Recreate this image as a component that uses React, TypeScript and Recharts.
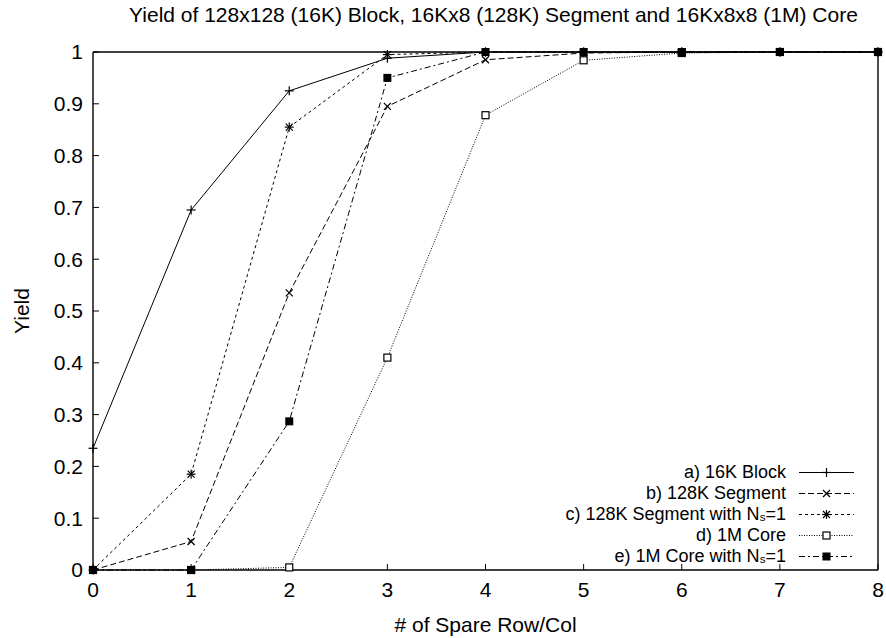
import React from 'react';
import { LineChart, Line, XAxis, YAxis, Legend } from 'recharts';

// Number of spare rows/columns on the x axis
const spares = [0, 1, 2, 3, 4, 5, 6, 7, 8];

// Yield per configuration
const block16K = [0.235, 0.695, 0.925, 0.988, 1, 1, 1, 1, 1];
const segment128K = [0, 0.055, 0.535, 0.895, 0.985, 0.998, 1, 1, 1];
const segment128KNs1 = [0, 0.185, 0.855, 0.995, 1, 1, 1, 1, 1];
const core1M = [0, 0, 0.005, 0.41, 0.878, 0.984, 0.998, 1, 1];
const core1MNs1 = [0, 0, 0.287, 0.95, 1, 1, 1, 1, 1];

const xTicks = [0, 1, 2, 3, 4, 5, 6, 7, 8];
const yTicks = [0, 0.1, 0.2, 0.3, 0.4, 0.5, 0.6, 0.7, 0.8, 0.9, 1];

const rows = spares.map((n, i) => ({
  n,
  a: block16K[i],
  b: segment128K[i],
  c: segment128KNs1[i],
  d: core1M[i],
  e: core1MNs1[i],
}));

type MarkerKind = 'plus' | 'cross' | 'star' | 'openSquare' | 'filledSquare';

const subStyle: React.CSSProperties = { fontSize: '0.65em', verticalAlign: '-0.1em', lineHeight: 0 };

const series: { key: string; label: React.ReactNode; dash?: string; marker: MarkerKind }[] = [
  { key: 'a', label: 'a) 16K Block', marker: 'plus' },
  { key: 'b', label: 'b) 128K Segment', dash: '6 3', marker: 'cross' },
  {
    key: 'c',
    label: (
      <>
        c) 128K Segment with N<sub style={subStyle}>s</sub>=1
      </>
    ),
    dash: '3 3',
    marker: 'star',
  },
  { key: 'd', label: 'd) 1M Core', dash: '1 1.5', marker: 'openSquare' },
  {
    key: 'e',
    label: (
      <>
        e) 1M Core with N<sub style={subStyle}>s</sub>=1
      </>
    ),
    dash: '6 3 2 3',
    marker: 'filledSquare',
  },
];

const FONT = '"Liberation Sans", Arial, Helvetica, sans-serif';
const FONT_SIZE = 21;
const LEGEND_FONT_SIZE = 18;
const LEGEND_ROW = 21;

// Plot frame: y axis at x=93, right border at 878, top at 52, x axis at 570
const PLOT_LEFT = 93;
const PLOT_RIGHT = 878;
const PLOT_CENTER = (PLOT_LEFT + PLOT_RIGHT) / 2;

function Marker({ kind, cx, cy }: { kind: MarkerKind; cx: number; cy: number }) {
  const r = 4.5;
  const s = 3.5;
  const stroke = { stroke: '#000', strokeWidth: 1.2 };
  switch (kind) {
    case 'plus':
      return (
        <g>
          <line x1={cx - r} y1={cy} x2={cx + r} y2={cy} {...stroke} />
          <line x1={cx} y1={cy - r} x2={cx} y2={cy + r} {...stroke} />
        </g>
      );
    case 'cross':
      return (
        <g>
          <line x1={cx - s} y1={cy - s} x2={cx + s} y2={cy + s} {...stroke} />
          <line x1={cx - s} y1={cy + s} x2={cx + s} y2={cy - s} {...stroke} />
        </g>
      );
    case 'star':
      return (
        <g>
          <line x1={cx - s} y1={cy - s} x2={cx + s} y2={cy + s} {...stroke} />
          <line x1={cx - s} y1={cy + s} x2={cx + s} y2={cy - s} {...stroke} />
          <line x1={cx - r} y1={cy} x2={cx + r} y2={cy} {...stroke} />
          <line x1={cx} y1={cy - r} x2={cx} y2={cy + r} {...stroke} />
        </g>
      );
    case 'openSquare':
      return <rect x={cx - 3.5} y={cy - 3.5} width={7} height={7} fill="#fff" {...stroke} />;
    case 'filledSquare':
      return <rect x={cx - 4} y={cy - 4} width={8} height={8} fill="#000" />;
  }
}

function makeDot(kind: MarkerKind) {
  return (props: any) => {
    const { cx, cy, index } = props;
    if (cx == null || cy == null) return <g key={index} />;
    return (
      <g key={`${kind}-${index}`}>
        <Marker kind={kind} cx={cx} cy={cy} />
      </g>
    );
  };
}

function LegendBox() {
  return (
    <div style={{ fontFamily: FONT, fontSize: LEGEND_FONT_SIZE, color: '#000' }}>
      {series.map((s) => (
        <div
          key={s.key}
          style={{ display: 'flex', alignItems: 'center', justifyContent: 'flex-end', height: LEGEND_ROW }}
        >
          <span style={{ whiteSpace: 'nowrap', lineHeight: `${LEGEND_ROW}px` }}>{s.label}</span>
          <svg width={60} height={LEGEND_ROW} style={{ marginLeft: 11 }}>
            <line
              x1={2}
              y1={LEGEND_ROW / 2}
              x2={57}
              y2={LEGEND_ROW / 2}
              stroke="#000"
              strokeWidth={1}
              strokeDasharray={s.dash}
            />
            <Marker kind={s.marker} cx={29.5} cy={LEGEND_ROW / 2} />
          </svg>
        </div>
      ))}
    </div>
  );
}

export default function App() {
  return (
    <div
      style={{
        position: 'absolute',
        left: 0,
        top: 0,
        width: 886,
        height: 638,
        background: '#fff',
        fontFamily: FONT,
        overflow: 'hidden',
      }}
    >
      <div
        style={{
          position: 'absolute',
          top: 3,
          left: PLOT_CENTER + 8 - 443,
          width: 886,
          textAlign: 'center',
          fontSize: FONT_SIZE,
          whiteSpace: 'nowrap',
          lineHeight: '24px',
        }}
      >
        Yield of 128x128 (16K) Block, 16Kx8 (128K) Segment and 16Kx8x8 (1M) Core
      </div>
      <div
        style={{
          position: 'absolute',
          left: 22,
          top: 311,
          transform: 'translate(-50%, -50%) rotate(-90deg)',
          fontSize: FONT_SIZE,
          whiteSpace: 'nowrap',
          lineHeight: '24px',
        }}
      >
        Yield
      </div>
      <div
        style={{
          position: 'absolute',
          top: 613,
          left: PLOT_CENTER - 200,
          width: 400,
          textAlign: 'center',
          fontSize: FONT_SIZE,
          whiteSpace: 'nowrap',
          lineHeight: '24px',
        }}
      >
        # of Spare Row/Col
      </div>
      <LineChart
        width={886}
        height={638}
        data={rows}
        margin={{ top: 51, right: 886 - PLOT_RIGHT - 1, bottom: 0, left: 0 }}
      >
        <XAxis
          dataKey="n"
          type="number"
          domain={[0, 8]}
          ticks={xTicks}
          height={68}
          tickSize={-6}
          tickMargin={18}
          axisLine={{ stroke: '#000', strokeWidth: 1.4 }}
          tickLine={{ stroke: '#000' }}
          tick={{ fill: '#000', fontSize: FONT_SIZE, fontFamily: FONT }}
          interval={0}
        />
        <XAxis
          xAxisId="top"
          orientation="top"
          dataKey="n"
          type="number"
          domain={[0, 8]}
          ticks={xTicks}
          height={1}
          tickSize={-6}
          axisLine={{ stroke: '#000', strokeWidth: 1.4 }}
          tickLine={{ stroke: '#000' }}
          tick={false}
          interval={0}
        />
        <YAxis
          type="number"
          domain={[0, 1]}
          ticks={yTicks}
          width={PLOT_LEFT}
          tickSize={-6}
          tickMargin={16}
          axisLine={{ stroke: '#000', strokeWidth: 1.4 }}
          tickLine={{ stroke: '#000' }}
          tick={{ fill: '#000', fontSize: FONT_SIZE, fontFamily: FONT }}
          tickFormatter={(v: number) => String(Number(v.toFixed(1)))}
          interval={0}
        />
        <YAxis
          yAxisId="right"
          orientation="right"
          type="number"
          domain={[0, 1]}
          ticks={yTicks}
          width={1}
          tickSize={-6}
          axisLine={{ stroke: '#000', strokeWidth: 1.4 }}
          tickLine={{ stroke: '#000' }}
          tick={false}
          interval={0}
        />
        {series.map((s) => (
          <Line
            key={s.key}
            dataKey={s.key}
            type="linear"
            stroke="#000"
            strokeWidth={1}
            strokeDasharray={s.dash}
            dot={makeDot(s.marker)}
            activeDot={false}
            isAnimationActive={false}
          />
        ))}
        <Legend
          layout="vertical"
          align="center"
          verticalAlign="middle"
          content={() => <LegendBox />}
          wrapperStyle={{ left: 'auto', right: 29, top: 462, bottom: 'auto', width: 'auto' }}
        />
      </LineChart>
    </div>
  );
}
